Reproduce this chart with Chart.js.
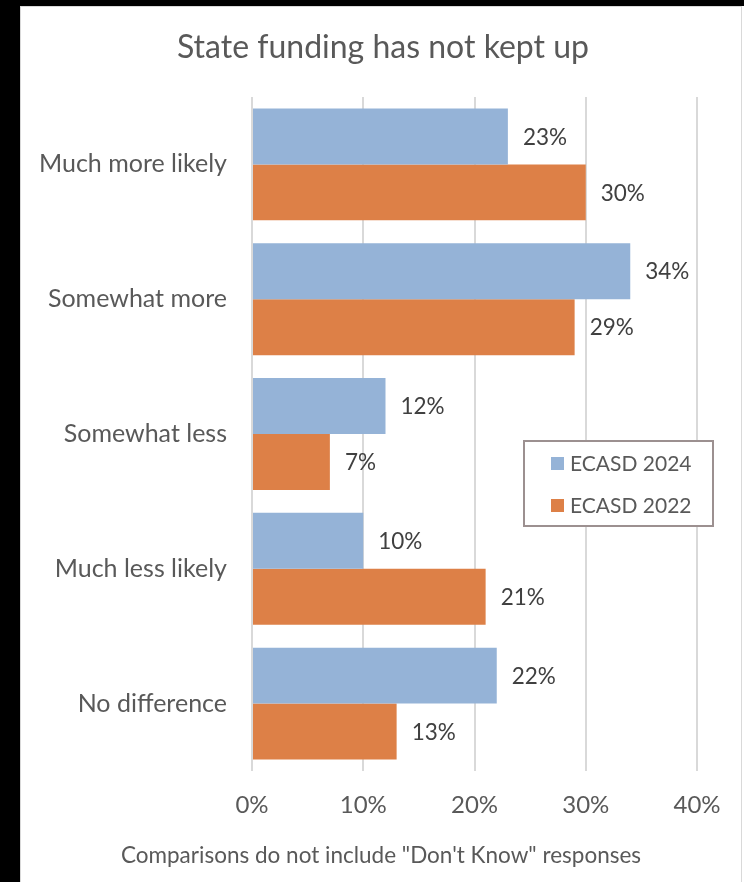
<!DOCTYPE html>
<html>
<head>
<meta charset="utf-8">
<script src="https://cdn.jsdelivr.net/npm/chart.js@4"></script>
<style>
  html, body { margin: 0; padding: 0; background: #000; }
  #wrap { position: absolute; left: 0; top: 0; width: 744px; height: 882px; }
</style>
</head>
<body>
<div id="wrap"><canvas id="funding_chart" width="744" height="882"></canvas></div>
<script>
const categories = ['Much more likely', 'Somewhat more', 'Somewhat less', 'Much less likely', 'No difference'];
const values2024 = [23, 34, 12, 10, 22];
const values2022 = [30, 29, 7, 21, 13];
const seriesNames = ['ECASD 2024', 'ECASD 2022'];
const xTicks = [0, 10, 20, 30, 40];
const chartTitle = 'State funding has not kept up';
const footNote = 'Comparisons do not include "Don\'t Know" responses';

const textColor = '#595959';
const fontFamily = 'Lato, "Open Sans", sans-serif';

// white panel with a thin grey frame on the black page
const panel = {
    id: 'panel',
    beforeDraw(chart) {
        const c = chart.ctx;
        c.save();
        c.fillStyle = '#000';
        c.fillRect(0, 0, chart.width, chart.height);
        c.fillStyle = '#fff';
        c.fillRect(20, 6, 724, 876);
        c.strokeStyle = '#d9d9d9';
        c.lineWidth = 1;
        c.strokeRect(20.5, 6.5, 721, 880);
        c.restore();
    }
};

// percent labels to the right of each bar
const barLabels = {
    id: 'barLabels',
    afterDatasetsDraw(chart) {
        const c = chart.ctx;
        c.save();
        c.font = '22.5px ' + fontFamily;
        c.fillStyle = '#404040';
        c.textBaseline = 'middle';
        c.textAlign = 'left';
        chart.data.datasets.forEach((ds, i) => {
            chart.getDatasetMeta(i).data.forEach((bar, j) => {
                c.fillText(ds.data[j] + '%', bar.x + 15, bar.y + 1);
            });
        });
        c.restore();
    }
};

// title, boxed legend inside the plot area, and the note under the axis
const decorations = {
    id: 'decorations',
    afterDraw(chart) {
        const c = chart.ctx;
        c.save();
        c.textBaseline = 'middle';
        c.textAlign = 'center';
        c.fillStyle = textColor;
        c.font = '32px ' + fontFamily;
        c.fillText(chartTitle, 383, 48);

        c.font = '22.5px ' + fontFamily;
        c.fillText(footNote, 381, 856);

        const x = 524, y = 441, w = 189, h = 85;
        c.fillStyle = '#fff';
        c.fillRect(x, y, w, h);
        c.strokeStyle = '#9c9090';
        c.lineWidth = 2;
        c.strokeRect(x, y, w, h);
        c.font = '21px ' + fontFamily;
        c.textAlign = 'left';
        chart.data.datasets.forEach((ds, i) => {
            const cy = y + 22 + i * 42;
            c.fillStyle = ds.backgroundColor;
            c.fillRect(x + 27, cy - 6, 13, 13);
            c.fillStyle = textColor;
            c.fillText(ds.label, x + 46, cy + 1);
        });
        c.restore();
    }
};

const ctx = document.getElementById('funding_chart').getContext('2d');

new Chart(ctx, {
    type: 'bar',
    data: {
        labels: categories,
        datasets: [{
            label: seriesNames[0],
            data: values2024,
            backgroundColor: '#95b3d7'
        }, {
            label: seriesNames[1],
            data: values2022,
            backgroundColor: '#dd8047'
        }]
    },
    options: {
        indexAxis: 'y',
        responsive: false,
        animation: false,
        layout: {
            padding: { left: 0, right: 47, top: 97, bottom: 0 }
        },
        datasets: {
            bar: {
                categoryPercentage: 0.83,
                barPercentage: 1.0
            }
        },
        scales: {
            x: {
                min: 0,
                max: 40,
                afterBuildTicks(scale) {
                    scale.ticks = xTicks.map(v => ({ value: v }));
                },
                afterFit(scale) {
                    scale.height = 111;
                },
                grid: {
                    color: '#d9d9d9',
                    lineWidth: 2,
                    drawTicks: false
                },
                border: { display: false },
                ticks: {
                    color: textColor,
                    padding: 20,
                    font: { family: fontFamily, size: 24 },
                    callback: v => v + '%'
                }
            },
            y: {
                afterFit(scale) {
                    scale.width = 252;
                },
                grid: { display: false, drawTicks: false },
                border: { display: false },
                ticks: {
                    color: textColor,
                    padding: 25,
                    font: { family: fontFamily, size: 25 }
                }
            }
        },
        plugins: {
            legend: { display: false },
            tooltip: { enabled: false },
            title: { display: false }
        }
    },
    plugins: [panel, barLabels, decorations]
});
</script>
</body>
</html>
